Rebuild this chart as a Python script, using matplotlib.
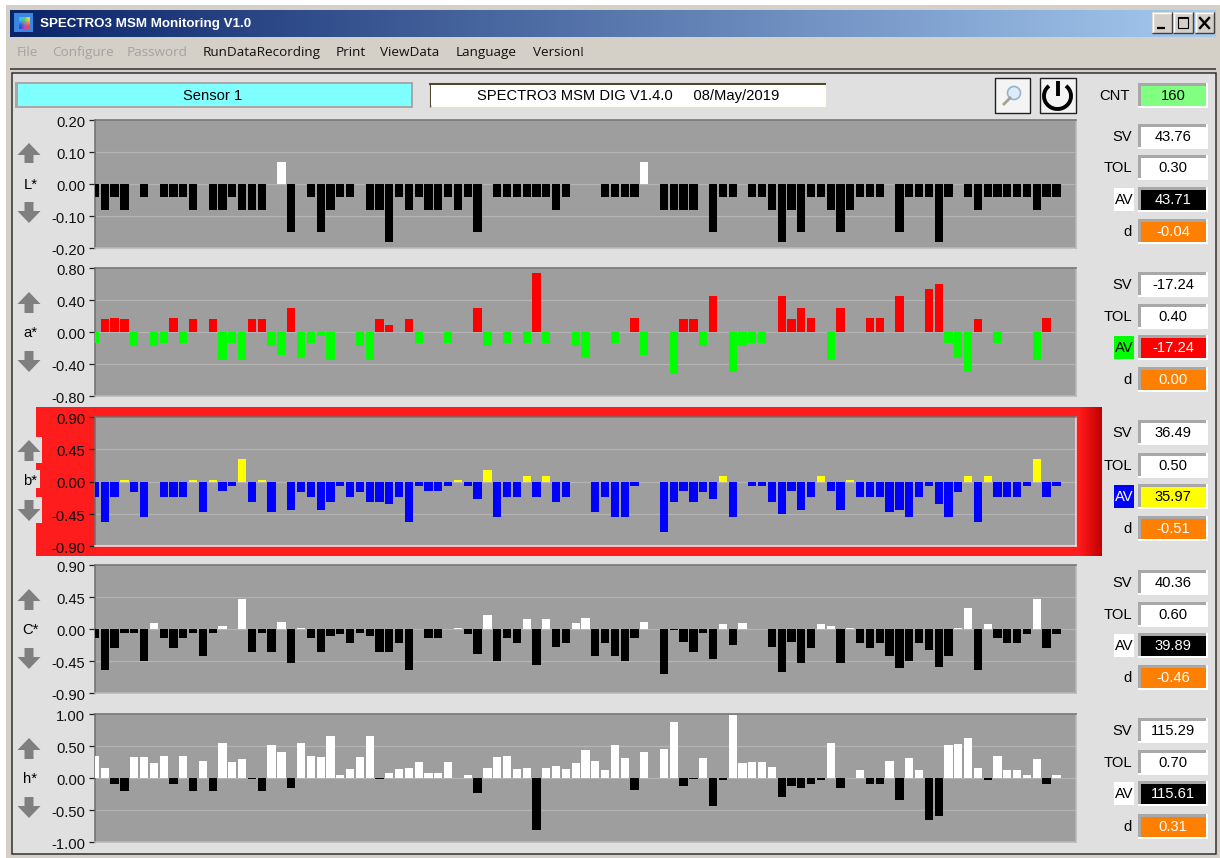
import matplotlib
matplotlib.use('Agg')
import matplotlib.pyplot as plt
from matplotlib.patches import Rectangle, Polygon, Circle, Arc
from matplotlib.transforms import ScaledTranslation
import numpy as np

W, H = 1220, 858

# values, one bar per index
L_vals = [-.04,-.08,-.04,-.08,0,-.04,0,-.04,-.04,-.04,
          -.08,0,-.08,-.08,-.04,-.08,-.08,-.08,0,.07,
          -.15,0,-.04,-.15,-.08,-.04,-.04,0,-.08,-.08,
          -.18,-.04,-.08,-.04,-.08,-.08,-.04,-.08,-.04,-.15,
          0,-.04,-.04,-.04,-.04,-.04,-.04,-.08,-.04,0,
          0,0,-.04,-.04,-.04,-.04,.07,0,-.08,-.08,
          -.08,-.08,0,-.15,-.04,-.04,0,-.04,-.04,-.08,
          -.18,-.08,-.15,-.04,-.04,-.08,-.15,-.08,-.04,-.04,
          -.04,0,-.15,-.04,-.04,-.04,-.18,-.04,0,-.04,
          -.08,-.04,-.04,-.04,-.04,-.04,-.08,-.04,-.04]
a_vals = [-.14,.16,.18,.16,-.17,0,-.17,-.14,.18,-.14,
          .16,0,.16,-.35,-.14,-.35,.16,.16,-.17,-.29,
          .30,-.32,-.14,-.05,-.35,0,0,-.17,-.35,.16,
          .09,0,.16,-.14,0,0,-.14,0,0,.30,
          -.17,0,-.14,0,-.14,.74,-.14,0,0,-.17,
          -.32,0,0,-.14,0,.18,-.29,0,0,-.53,
          .16,.16,-.17,.45,0,-.50,-.17,-.14,-.14,0,
          .45,.16,.30,.18,0,-.35,.30,0,0,.18,
          .18,0,.45,0,0,.54,.60,-.14,-.32,-.50,
          .16,0,-.14,0,0,0,-.35,.18,0]
b_vals = [-.21,-.57,-.21,.02,-.15,-.50,0,-.21,-.21,-.21,
          .02,-.43,.02,-.13,-.06,.31,-.28,.02,-.43,-.01,
          -.40,-.15,-.21,-.40,-.28,-.06,-.21,-.15,-.28,-.28,
          -.31,-.21,-.57,-.06,-.13,-.13,-.06,.02,-.06,-.25,
          .16,-.50,-.21,-.21,.07,-.21,.07,-.28,-.21,0,
          0,-.43,-.21,-.50,-.50,-.06,-.01,0,-.70,-.28,
          -.13,-.28,-.15,-.25,.07,-.50,0,-.06,-.06,-.28,
          -.45,-.13,-.40,-.21,.07,-.13,-.40,.02,-.21,-.21,
          -.21,-.43,-.40,-.50,-.21,-.06,-.31,-.50,-.15,.07,
          -.57,.07,-.21,-.21,-.21,-.06,.31,-.21,-.06]
C_vals = [-.13,-.57,-.27,-.05,-.05,-.45,.08,-.13,-.27,-.13,
          -.05,-.38,-.05,.04,0,.42,-.32,-.05,-.32,.10,
          -.48,.02,-.13,-.33,-.10,-.07,-.20,-.05,-.10,-.32,
          -.32,-.20,-.57,0,-.12,-.12,0,.02,-.07,-.35,
          .20,-.45,-.13,-.20,.14,-.50,.14,-.25,-.20,.08,
          .15,-.38,-.20,-.38,-.45,-.13,.10,0,-.63,-.01,
          -.18,-.32,-.05,-.42,.07,-.23,.08,0,0,-.25,
          -.60,-.18,-.48,-.27,.07,.04,-.48,.02,-.20,-.27,
          -.20,-.38,-.55,-.45,-.20,-.30,-.53,-.38,.01,.29,
          -.57,.07,-.13,-.20,-.20,-.07,.42,-.27,-.07]
h_vals = [.35,.15,-.09,-.20,.33,.33,.23,.35,-.09,.35,
          -.20,.27,-.20,.55,.25,.29,-.02,-.20,.52,.40,
          -.15,.54,.35,.33,.65,.04,.14,.33,.65,-.02,
          .08,.14,.15,.25,.08,.08,.25,0,.04,-.24,
          .15,.33,.35,.14,.15,-.81,.15,.18,.14,.23,
          .44,.27,.13,.51,.32,-.19,.40,0,.46,.87,
          -.12,-.02,.32,-.44,-.03,.99,.23,.25,.25,.17,
          -.30,-.12,-.15,-.10,-.03,.55,-.15,0,.13,-.10,
          -.10,.27,-.34,.32,.13,-.66,-.60,.51,.53,.63,
          .15,-.03,.34,.13,.13,.04,.29,-.10,.04]

channels = ['L*', 'a*', 'b*', 'C*', 'h*']
series = [L_vals, a_vals, b_vals, C_vals, h_vals]
ymax = [0.2, 0.8, 0.9, 0.9, 1.0]
tick_labels = [['-0.20','-0.10','0.00','0.10','0.20'],
               ['-0.80','-0.40','0.00','0.40','0.80'],
               ['-0.90','-0.45','0.00','0.45','0.90'],
               ['-0.90','-0.45','0.00','0.45','0.90'],
               ['-1.00','-0.50','0.00','0.50','1.00']]
pos_colors = ['#ffffff', '#ff0000', '#ffff00', '#ffffff', '#ffffff']
neg_colors = ['#000000', '#00ff00', '#0000ff', '#000000', '#000000']

row_names = ['SV', 'TOL', 'AV', 'd']
sv_text = ['43.76', '-17.24', '36.49', '40.36', '115.29']
tol_text = ['0.30', '0.40', '0.50', '0.60', '0.70']
av_text = ['43.71', '-17.24', '35.97', '39.89', '115.61']
d_text = ['-0.04', '0.00', '-0.51', '-0.46', '0.31']
av_fill = ['#000000', '#ff0000', '#ffff00', '#000000', '#000000']
av_fg = ['#ffffff', '#ffffff', '#000000', '#ffffff', '#ffffff']
av_label_bg = ['#ffffff', '#00ff00', '#0000ff', '#ffffff', '#ffffff']
av_label_fg = ['#000000', '#000000', '#ffffff', '#000000', '#000000']

menu_items = ['File', 'Configure', 'Password', 'RunDataRecording', 'Print', 'ViewData', 'Language', 'Version!']
menu_x = [17, 52, 127, 203, 336, 380, 456, 533]
menu_off = [True, True, True, False, False, False, False, False]

# pixel layout of the five graphs: top, bottom
plot_y = [(120, 248), (268, 396), (417, 546), (565, 693), (714, 842)]
arrow_y = [(143, 163, 202, 223), (292, 313, 351, 372), (440, 461, 500, 521), (589, 610, 648, 669), (738, 759, 797, 818)]
label_y = [185, 333, 481, 630, 779]
row_y = [(137, 168, 200, 232), (285, 317, 348, 380), (433, 466, 497, 529), (583, 615, 646, 678), (731, 763, 794, 827)]
PX0, PX1 = 95, 1076
TXT = 10.6

plt.rcParams['font.family'] = ['Liberation Sans', 'DejaVu Sans']
fig = plt.figure(figsize=(W / 100, H / 100), dpi=100, facecolor='white')

# everything that is not a graph goes on one axes in screen pixels
ui = fig.add_axes([0, 0, 1, 1], zorder=0)
ui.axis('off')


def rect(x0, y0, x1, y1, fc, ec='none', lw=0, z=1):
    ui.add_patch(Rectangle((x0, y0), x1 - x0, y1 - y0, facecolor=fc, edgecolor=ec, linewidth=lw, zorder=z))


def hline(x0, x1, y, c, lw=1, z=2):
    ui.plot([x0, x1], [y, y], color=c, lw=lw, zorder=z, solid_capstyle='butt')


def vline(x, y0, y1, c, lw=1, z=2):
    ui.plot([x, x], [y0, y1], color=c, lw=lw, zorder=z, solid_capstyle='butt')


def field(x0, y0, x1, y1, fill, txt, fg='#000000', size=TXT):
    # sunken labview style indicator
    rect(x0, y0, x1, y1, '#ffffff', z=2)
    rect(x0, y0, x1 - 2, y1 - 2, '#a8a8a8', z=2)
    rect(x0 + 3, y0 + 3, x1 - 2, y1 - 2, fill, z=3)
    ui.text((x0 + x1) / 2, (y0 + y1) / 2 + 0.5, txt, color=fg, fontsize=size, ha='center', va='center', zorder=4)


# window frame
rect(6, 5, 1220, 858, '#d4d0c8')
grad = np.linspace(0, 1, 256).reshape(1, -1, 1)
c0 = np.array([10, 36, 106]) / 255
c1 = np.array([166, 202, 240]) / 255
ui.imshow(c0 + (c1 - c0) * grad, extent=(10, 1216, 37, 10), aspect='auto', zorder=1)
ui.text(40, 24, 'SPECTRO3 MSM Monitoring V1.0', color='white', fontsize=9.6, fontweight='bold', va='center', zorder=3)
# app icon
rect(14, 13, 33, 32, '#3a86e0', z=2)
ui.imshow(np.array([[[.2, .75, .9], [.3, .8, .5], [.9, .8, .3]], [[.2, .3, .8], [.7, .3, .8], [.9, .3, .3]]]),
          extent=(19, 30, 29, 17), aspect='auto', zorder=3, interpolation='bilinear')

# window buttons
for x0, x1 in [(1152, 1172), (1173, 1193), (1195, 1214)]:
    rect(x0, 12, x1, 33, '#d4d0c8', z=3)
    hline(x0, x1, 12.5, '#ffffff', 1, 4)
    vline(x0 + 0.5, 12, 33, '#ffffff', 1, 4)
    hline(x0, x1, 32.5, '#404040', 1, 4)
    vline(x1 - 0.5, 12, 33, '#404040', 1, 4)
hline(1157, 1165, 28, 'black', 1.6, 5)
rect(1178, 17, 1188, 28, 'none', ec='black', lw=0.8, z=5)
hline(1178, 1188, 17.5, 'black', 1.4, 5)
ui.plot([1200, 1209], [18, 28], color='black', lw=1.7, zorder=5)
ui.plot([1200, 1209], [28, 18], color='black', lw=1.7, zorder=5)

for name, x, off in zip(menu_items, menu_x, menu_off):
    ui.text(x, 52.5, name, family=['Open Sans', 'DejaVu Sans'], fontsize=9.7, va='center',
            color='#a3a3a3' if off else '#101010', zorder=3)

# client area
hline(10, 1216, 69, '#303030', 1.1)
rect(11.5, 73, 1215.5, 854, '#e0e0e0', ec='#303030', lw=1.1)

# top row
rect(15, 82, 413, 108, '#a8a8a8', z=2)
rect(18, 84, 411, 106, '#80ffff', z=3)
ui.text(213, 96, 'Sensor 1', fontsize=TXT, ha='center', va='center', zorder=4)
rect(429, 83, 826, 107, '#fffff0', z=2)
hline(429, 826, 83.5, '#504830', 1.5, 3)
vline(429.5, 83, 107, '#504830', 1, 3)
rect(431, 85, 824, 105, '#ffffff', z=3)
ui.text(628, 96, 'SPECTRO3 MSM DIG V1.4.0     08/May/2019', fontsize=TXT, ha='center', va='center', zorder=4)

# magnifier and power buttons
for x0, x1 in [(995, 1030), (1040, 1075.5)]:
    rect(x0, 77.5, x1, 113, '#f4f4f4', ec='#202020', lw=1, z=2)
ui.add_patch(Circle((1014, 93), 6.5, facecolor='#dcecf8', edgecolor='#98b4cc', lw=1.2, zorder=3))
ui.plot([1010, 1004], [98, 104], color='#a8a090', lw=2, zorder=3)
ui.add_patch(Arc((1057.5, 96), 27, 26, theta1=-50, theta2=230, angle=0, color='black', lw=2.8, zorder=3))
vline(1057.5, 81, 96, 'black', 2.8, 4)

# cnt
ui.text(1115, 96, 'CNT', fontsize=TXT, ha='center', va='center', zorder=4)
field(1138, 83, 1208, 108, '#80ff80', '160')

# red alarm frame round b*
rect(36, 407, 1080, 556, '#ff1c1c', z=1)
band = np.linspace(0, 1, 64).reshape(1, -1, 1)
ui.imshow(np.array([1, 0.1, 0.1]) + (np.array([0.75, 0, 0]) - np.array([1, 0.1, 0.1])) * band,
          extent=(1080, 1102, 556, 407), aspect='auto', zorder=1)
for y0, y1, xr in [(437, 463, 42), (470, 488, 40), (497, 523, 42)]:
    rect(36, y0, xr, y1, '#e0e0e0', z=2)

# imshow changes the limits, so set them after it
ui.set_xlim(0, W)
ui.set_ylim(H, 0)

# arrows and channel names
for i, name in enumerate(channels):
    up0, up1, dn0, dn1 = arrow_y[i]
    cx = 29
    ui.add_patch(Polygon([(cx, up0), (cx + 11.5, up0 + 12), (cx + 4.5, up0 + 12), (cx + 4.5, up1), (cx - 4.5, up1),
                          (cx - 4.5, up0 + 12), (cx - 11.5, up0 + 12)], closed=True, fc='#7f7f7f', ec='none', zorder=3))
    ui.add_patch(Polygon([(cx, dn1), (cx + 11.5, dn1 - 12), (cx + 4.5, dn1 - 12), (cx + 4.5, dn0), (cx - 4.5, dn0),
                          (cx - 4.5, dn1 - 12), (cx - 11.5, dn1 - 12)], closed=True, fc='#7f7f7f', ec='none', zorder=3))
    ui.text(30.5, label_y[i], name, fontsize=TXT, ha='center', va='center', zorder=4)

# right hand readouts
for i in range(5):
    vals = [sv_text[i], tol_text[i], av_text[i], d_text[i]]
    fills = ['#ffffff', '#ffffff', av_fill[i], '#ff8000']
    fgs = ['#000000', '#000000', av_fg[i], '#ffffff']
    for j, name in enumerate(row_names):
        yc = row_y[i][j]
        if name == 'AV':
            rect(1114, yc - 12, 1134, yc + 11, av_label_bg[i], z=3)
            ui.text(1124, yc, name, color=av_label_fg[i], fontsize=TXT, ha='center', va='center', zorder=4)
        else:
            ui.text(1132, yc, name, fontsize=TXT, ha='right', va='center', zorder=4)
        field(1138, yc - 13, 1208, yc + 12, fills[j], vals[j], fgs[j])

# the five bar graphs
shift = ScaledTranslation(0, -1.5 / 72 * 72 / 100, fig.dpi_scale_trans)
for i, vals in enumerate(series):
    top, bottom = plot_y[i]
    ax = fig.add_axes([PX0 / W, 1 - bottom / H, (PX1 - PX0) / W, (bottom - top) / H], zorder=2)
    ax.set_facecolor('#9e9e9e')
    vals = np.array(vals)
    idx = np.arange(len(vals))
    shown = vals != 0
    ax.bar(idx[shown], vals[shown], width=0.84, color=np.where(vals[shown] > 0, pos_colors[i], neg_colors[i]),
           zorder=3, linewidth=0)
    ax.set_xlim(0, 100)
    ax.set_ylim(-ymax[i], ymax[i])
    ax.set_xticks([])
    ax.set_yticks(np.linspace(-ymax[i], ymax[i], 5))
    ax.set_yticklabels(tick_labels[i], fontsize=TXT, color='#101010')
    ax.tick_params(axis='y', length=4.5, width=0.9, color='#202020', pad=2.5)
    for lab in ax.get_yticklabels():
        lab.set_transform(lab.get_transform() + shift)
    ax.grid(axis='y', color='#b4b4b4', lw=0.9, zorder=1)
    ax.set_axisbelow(True)
    low_edge = '#e8e8e8' if channels[i] == 'b*' else '#b8b8b8'
    for s, c in [('top', '#6e6e6e'), ('left', '#6e6e6e'), ('right', low_edge), ('bottom', low_edge)]:
        ax.spines[s].set_color(c)
        ax.spines[s].set_linewidth(1.1)

fig.savefig('out.png', dpi=100)
